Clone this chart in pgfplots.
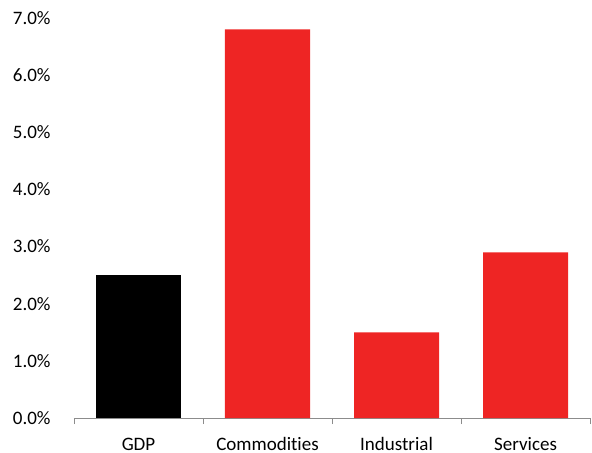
\documentclass[border=0pt]{standalone}
\usepackage{pgfplots}
\pgfplotsset{compat=1.18}
\usepackage{fontspec}
\setmainfont{Carlito}[Ligatures=NoCommon]
\definecolor{barred}{HTML}{EE2524}
\definecolor{axgray}{HTML}{8C8C8C}
\begin{document}
\begin{tikzpicture}
\begin{axis}[
  scale only axis,
  width=516bp, height=400bp,
  xmin=-0.5, xmax=3.5, ymin=0, ymax=7,
  ybar, bar width=85bp, bar shift=0pt,
  axis x line*=bottom, axis y line*=left,
  y axis line style={draw=none},
  x axis line style={axgray, line width=1pt},
  xtick={0,1,2,3},
  xticklabels={GDP,Commodities,Industrial,Services},
  major x tick style={draw=none},
  minor xtick={-0.5,0.5,1.5,2.5,3.5},
  minor x tick style={axgray, line width=1pt},
  minor tick length=6bp,
  tick align=outside,
  ytick={0,1,2,3,4,5,6,7},
  major y tick style={draw=none},
  /pgf/number format/assume math mode=true,
  yticklabel={\pgfmathprintnumber[fixed,fixed zerofill,precision=1]{\tick}\%},
  y tick label style={inner sep=0pt, xshift=-19bp},
  x tick label style={inner sep=0pt, yshift=-15.5bp, text height=12.5bp, text depth=3bp},
  tick label style={font=\fontsize{19bp}{22bp}\selectfont, text=black},
  clip=false,
]
\addplot[fill=black, draw=none] coordinates {(0,2.5)};
\addplot[fill=barred, draw=none] coordinates {(1,6.8) (2,1.5) (3,2.9)};
\end{axis}
\pgfresetboundingbox
\path (-74bp,-35bp) rectangle (518bp,418bp);
\end{tikzpicture}
\end{document}
